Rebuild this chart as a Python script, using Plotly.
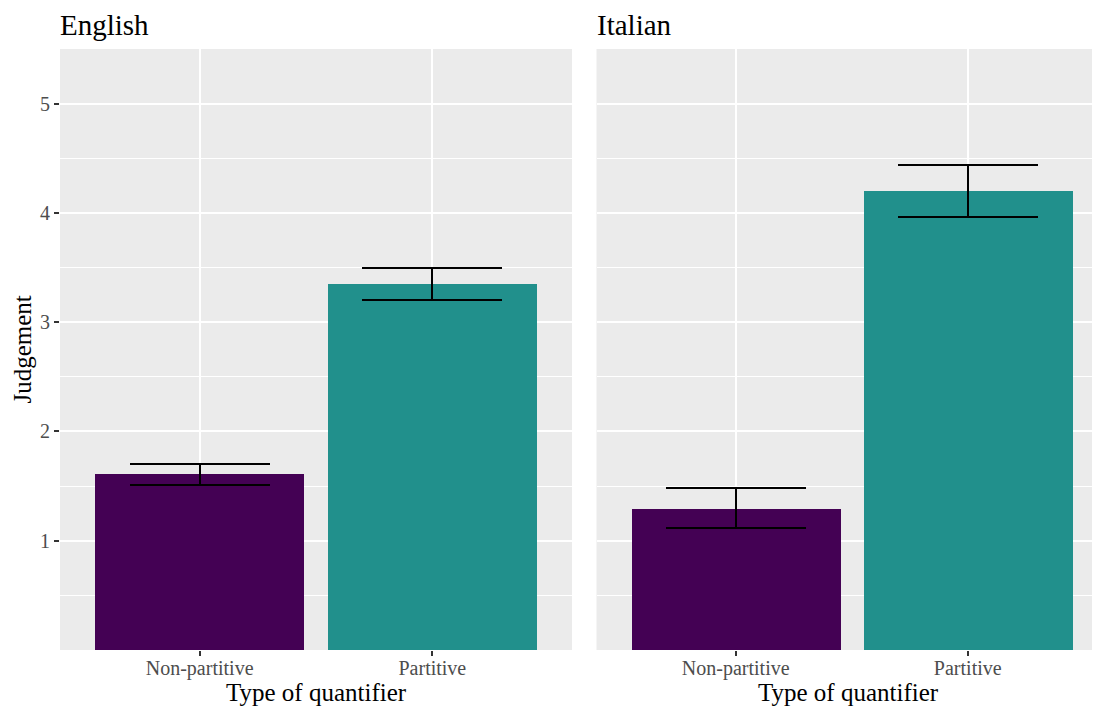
import plotly.graph_objects as go

# ---- data ----
languages = ["English", "Italian"]
categories = ["Non-partitive", "Partitive"]
english_mean = [1.61, 3.35]
english_lower = [1.51, 3.20]
english_upper = [1.70, 3.50]
italian_mean = [1.29, 4.20]
italian_lower = [1.12, 3.96]
italian_upper = [1.48, 4.44]
bar_colors = ["#440154", "#21908C"]
y_ticks = [1, 2, 3, 4, 5]
y_minor = [0.5, 1.5, 2.5, 3.5, 4.5]

# page has an 8px body margin; figure sized to fill the rest of the window
OFF = 8
W, H = 1100 - OFF, 708 - OFF
FONT = "Liberation Serif"

def px_x(p):
    return (p - OFF) / W

def px_y(p):
    return 1 - (p - OFF) / H

fig = go.Figure()

series = [
    (english_mean, english_lower, english_upper, "x", "y"),
    (italian_mean, italian_lower, italian_upper, "x2", "y2"),
]
xpos = [1, 2]
for mean, lo, hi, xa, ya in series:
    fig.add_trace(go.Bar(
        x=xpos, y=mean, width=0.9,
        marker=dict(color=bar_colors, line=dict(width=0)),
        error_y=dict(
            type="data", symmetric=False,
            array=[h - m for h, m in zip(hi, mean)],
            arrayminus=[m - l for m, l in zip(mean, lo)],
            color="black", thickness=2, width=70,
        ),
        xaxis=xa, yaxis=ya, showlegend=False, hoverinfo="skip",
    ))

top_px, bot_px = 49, 650
ydom = [px_y(bot_px), px_y(top_px)]

common_x = dict(
    tickmode="array", tickvals=xpos, ticktext=categories,
    showgrid=True, gridcolor="white", gridwidth=2,
    zeroline=False, showline=False,
    ticks="outside", ticklen=5, tickcolor="#333333", tickwidth=1.5,
    ticklabelstandoff=-5,
    tickfont=dict(family=FONT, size=20, color="#4D4D4D"),
)
common_y = dict(
    range=[0, 5.5], tickmode="array", tickvals=y_ticks,
    showgrid=True, gridcolor="white", gridwidth=2,
    minor=dict(tickvals=y_minor, showgrid=True, gridcolor="white", gridwidth=1, ticklen=0),
    zeroline=False, showline=False,
    ticks="outside", ticklen=5, tickcolor="#333333", tickwidth=1.5,
    tickfont=dict(family=FONT, size=20, color="#4D4D4D"),
)

fig.update_layout(
    width=W, height=H,
    margin=dict(l=0, r=0, t=0, b=0),
    paper_bgcolor="white", plot_bgcolor="#EBEBEB",
    bargap=0,
    xaxis=dict(domain=[px_x(60), px_x(572)], range=[0.4, 2.6], anchor="y", **common_x),
    yaxis=dict(domain=ydom, anchor="x", **common_y),
    xaxis2=dict(domain=[px_x(596.5), 1.0], range=[0.4, 2.57], anchor="y2", **common_x),
    yaxis2=dict(domain=ydom, anchor="x2", showticklabels=False,
                **{k: v for k, v in common_y.items() if k not in ("ticks", "ticklen", "tickcolor", "tickwidth", "tickfont")}),
)

annotations = []
# facet strip titles
for lang, x0 in zip(languages, [60, 597]):
    annotations.append(dict(
        text=lang, x=px_x(x0 - 1), y=1.0, xref="paper", yref="paper",
        xanchor="left", yanchor="top", showarrow=False, borderpad=0,
        font=dict(family=FONT, size=29, color="black"),
    ))
# x axis titles
for xc in [(60 + 572) / 2, (596.5 + 1100) / 2]:
    annotations.append(dict(
        text="Type of quantifier", x=px_x(xc), y=px_y(692), xref="paper", yref="paper",
        xanchor="center", yanchor="middle", showarrow=False,
        font=dict(family=FONT, size=25, color="black"),
    ))
# y axis title
annotations.append(dict(
    text="Judgement", x=px_x(22), y=px_y(349.5), xref="paper", yref="paper",
    xanchor="center", yanchor="middle", showarrow=False, textangle=-90,
    font=dict(family=FONT, size=25, color="black"),
))
fig.update_layout(annotations=annotations)

fig.write_html("out.html")
